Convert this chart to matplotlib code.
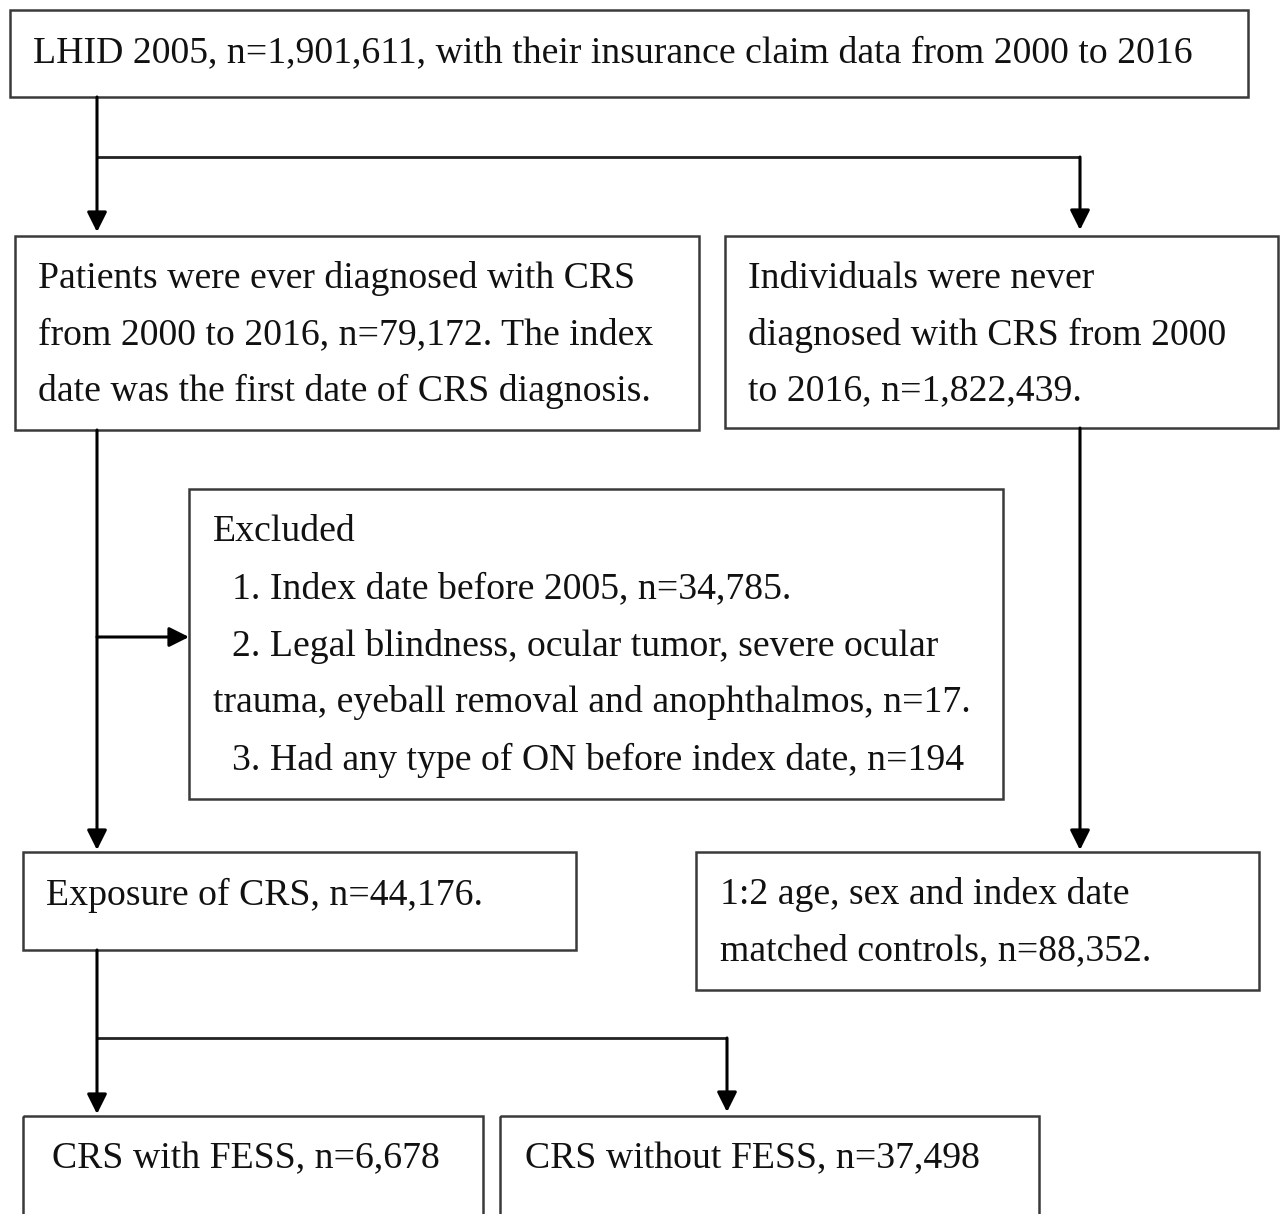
import matplotlib.pyplot as plt
from matplotlib.patches import Rectangle

# box texts
top_text = ["LHID 2005, n=1,901,611, with their insurance claim data from 2000 to 2016"]
crs_text = ["Patients were ever diagnosed with CRS",
            "from 2000 to 2016, n=79,172. The index",
            "date was the first date of CRS diagnosis."]
never_text = ["Individuals were never",
              "diagnosed with CRS from 2000",
              "to 2016, n=1,822,439."]
excluded_text = ["Excluded",
                 "  1. Index date before 2005, n=34,785.",
                 "  2. Legal blindness, ocular tumor, severe ocular",
                 "trauma, eyeball removal and anophthalmos, n=17.",
                 "  3. Had any type of ON before index date, n=194"]
exposure_text = ["Exposure of CRS, n=44,176."]
matched_text = ["1:2 age, sex and index date",
                "matched controls, n=88,352."]
fess_text = ["CRS with FESS, n=6,678"]
nofess_text = ["CRS without FESS, n=37,498"]

W, H = 1281, 1214
fig = plt.figure(figsize=(W / 100, H / 100), dpi=100)
ax = fig.add_axes([0, 0, 1, 1])
ax.set_xlim(0, W)
ax.set_ylim(H, 0)
ax.axis("off")

FONT = dict(family="Liberation Serif", fontsize=27.2, color="#111111", va="center", ha="left")
EDGE = "#3a3a3a"


def box(x0, y0, x1, y1, lines, tx, ty, dy=56):
    ax.add_patch(Rectangle((x0, y0), x1 - x0, y1 - y0, fill=False, ec=EDGE, lw=1.8))
    for i, s in enumerate(lines):
        ax.text(tx, ty + i * dy, s, **FONT)


def arrow(x0, y0, x1, y1):
    ax.annotate("", xy=(x1, y1), xytext=(x0, y0),
                arrowprops=dict(arrowstyle="-|>", color="black", lw=2.2,
                                mutation_scale=30, shrinkA=0, shrinkB=0))


def line(xs, ys):
    ax.plot(xs, ys, color="#222222", lw=2.0, solid_capstyle="butt")


box(10, 10, 1248, 97, top_text, 33, 53)
box(15, 236, 699, 430, crs_text, 38, 279)
box(725, 236, 1278, 428, never_text, 748, 279)
box(189, 489, 1003, 799, excluded_text, 213, 532, dy=57)
box(23, 852, 576, 950, exposure_text, 46, 895)
box(696, 852, 1259, 990, matched_text, 720, 895)
box(23, 1116, 483, 1240, fess_text, 52, 1159)
box(500, 1116, 1039, 1240, nofess_text, 525, 1159)

# connectors
arrow(97, 97, 97, 232)
line([97, 1080], [157, 157])
arrow(1080, 157, 1080, 230)
arrow(97, 430, 97, 850)
arrow(97, 637, 189, 637)
arrow(1080, 428, 1080, 850)
arrow(97, 950, 97, 1114)
line([97, 727], [1038, 1038])
arrow(727, 1038, 727, 1112)

fig.savefig("out.png", dpi=100)
